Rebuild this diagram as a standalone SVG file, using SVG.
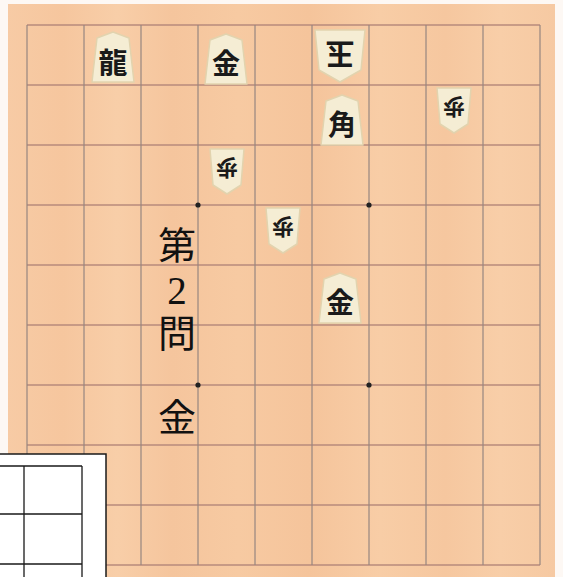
<svg xmlns="http://www.w3.org/2000/svg" width="563" height="577" viewBox="0 0 563 577">
<style>
.vl{stroke:#978680;stroke-width:1.2;fill:none}
.hl{stroke:#b88b7c;stroke-width:1.3;fill:none}
.piece{fill:#f5edd4;stroke:#e2d3ae;stroke-width:1.5;stroke-linejoin:round}
.pc{font-family:"Noto Sans CJK JP",sans-serif;font-weight:700;fill:#1a1a1a;text-anchor:middle;dominant-baseline:central}
.ttl{font-family:"Liberation Serif","Noto Sans CJK JP",serif;font-weight:400;fill:#111;text-anchor:middle;dominant-baseline:central;font-size:38px}
.num{font-family:"Liberation Serif",serif;fill:#111;text-anchor:middle;dominant-baseline:central;font-size:39px}
.box{stroke:#1a1a1a;stroke-width:1.3;fill:none}
</style>
<defs>
<linearGradient id="wood" x1="0" y1="0" x2="1" y2="0">
<stop offset="0" stop-color="#f7cba5"/>
<stop offset="0.1" stop-color="#f6c69e"/>
<stop offset="0.2" stop-color="#f8cea8"/>
<stop offset="0.3" stop-color="#f5c59d"/>
<stop offset="0.42" stop-color="#f7caa2"/>
<stop offset="0.55" stop-color="#f5c49b"/>
<stop offset="0.68" stop-color="#f8cda6"/>
<stop offset="0.8" stop-color="#f6c79f"/>
<stop offset="0.9" stop-color="#f8cea8"/>
<stop offset="1" stop-color="#f6c9a2"/>
</linearGradient>
<path id="sente" class="piece" d="M0,-25 L16,-19 L21,25 L-21,25 L-16,-19 Z"/>
<path id="gote-k" class="piece" d="M-25,-25 L25,-25 L21,15 L0,27 L-21,15 Z"/>
<path id="gote-p" class="piece" d="M-17,-22 L17,-22 L14,14 L0,23 L-14,14 Z"/>
</defs>
<rect x="0" y="0" width="563" height="577" fill="#fdf8f4"/>
<rect id="board" x="8" y="4" width="547" height="573" fill="url(#wood)"/>
<g id="grid">
<path class="hl" d="M27,25H540M27,85H540M27,145H540M27,205H540M27,265H540M27,325H540M27,385H540M27,445H540M27,505H540M27,565H540"/>
<path class="vl" d="M27,25V565M84,25V565M141,25V565M198,25V565M255,25V565M312,25V565M369,25V565M426,25V565M483,25V565M540,25V565"/>
<g fill="#222">
<circle cx="198" cy="205" r="2.6"/>
<circle cx="369" cy="205" r="2.6"/>
<circle cx="198" cy="385" r="2.6"/>
<circle cx="369" cy="385" r="2.6"/>
</g>
</g>
<g id="connectors"></g>
<g id="p-ryu" transform="translate(113,57)"><use href="#sente"/><text class="pc" y="4" font-size="29">龍</text></g>
<g id="p-kin1" transform="translate(226,59)"><use href="#sente"/><text class="pc" y="3" font-size="28">金</text></g>
<g id="p-gyoku" transform="translate(340,55)"><use href="#gote-k"/><text class="pc" y="-1" font-size="29" transform="rotate(180)">玉</text></g>
<g id="p-kaku" transform="translate(342,120)"><use href="#sente"/><text class="pc" y="3" font-size="28">角</text></g>
<g id="p-fu1" transform="translate(454,110)"><use href="#gote-p"/><text class="pc" y="1" font-size="22" transform="rotate(180)">歩</text></g>
<g id="p-fu2" transform="translate(227,171)"><use href="#gote-p"/><text class="pc" y="1" font-size="22" transform="rotate(180)">歩</text></g>
<g id="p-fu3" transform="translate(283,230)"><use href="#gote-p"/><text class="pc" y="1" font-size="22" transform="rotate(180)">歩</text></g>
<g id="p-kin2" transform="translate(340,298)"><use href="#sente"/><text class="pc" y="3" font-size="28">金</text></g>
<g id="title">
<text class="ttl" x="177" y="246">第</text>
<text class="num" x="177" y="290">2</text>
<text class="ttl" x="177" y="334">問</text>
<text class="ttl" x="177" y="418">金</text>
</g>
<g id="stand">
<rect x="-2" y="454" width="108" height="126" fill="#ffffff" stroke="#1a1a1a" stroke-width="1.5"/>
<path class="box" d="M0,466H82M0,514H82M0,564H82M24,466V577M82,466V577"/>
</g>
</svg>
